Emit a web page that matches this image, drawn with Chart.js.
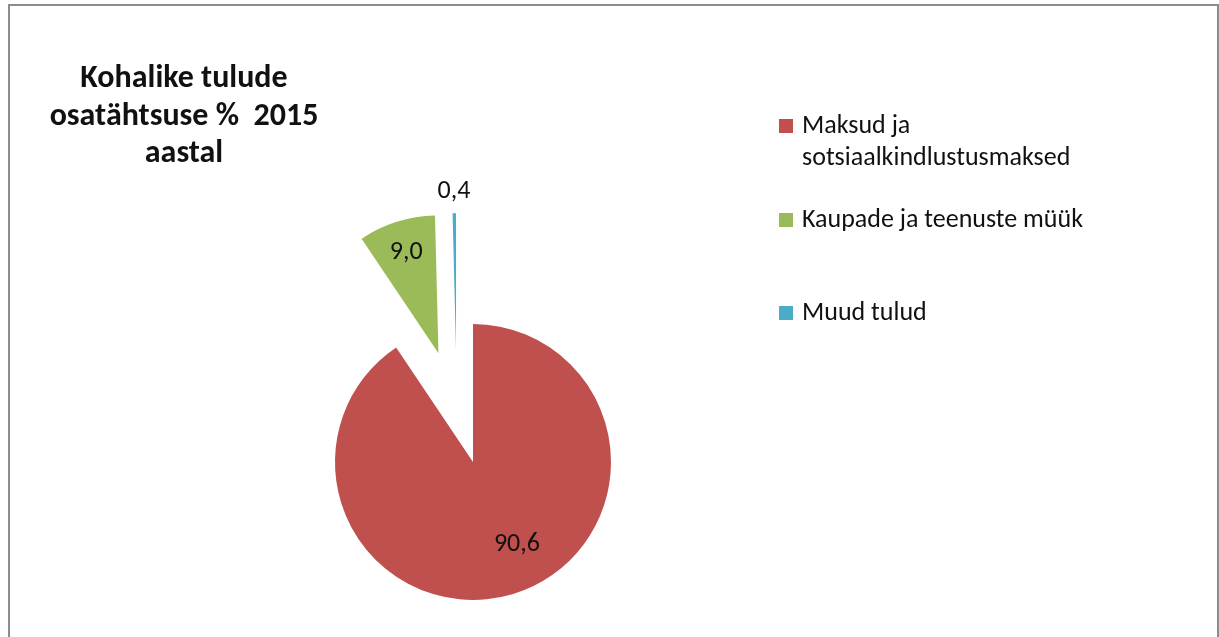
<!DOCTYPE html>
<html>
<head>
<meta charset="utf-8">
<script src="https://cdn.jsdelivr.net/npm/chart.js@4"></script>
<style>
  body { margin: 0; background: #fff; }
  #frame { position: absolute; left: 8px; top: 4px; width: 1207px; height: 660px; border: 2px solid #8c8c8c; }
  #wrap { position: absolute; left: 0; top: 0; width: 1219px; height: 637px; }
  .txt { position: absolute; font-family: Carlito, Calibri, Lato, "Liberation Sans", sans-serif; color: #111; white-space: nowrap; }
  #title { left: 34px; top: 58px; width: 300px; text-align: center; font-weight: bold; font-size: 32px; line-height: 37.5px; }
  .leg { left: 779px; font-size: 26px; line-height: 32px; }
  .leg span.sw { position: absolute; left: 0; top: 11px; width: 14px; height: 14px; }
  .leg div { padding-left: 23px; }
</style>
</head>
<body>
<div id="frame"></div>
<div id="wrap"><canvas id="myChart" width="1219" height="637"></canvas></div>
<div id="title" class="txt">Kohalike tulude<br>osatähtsuse %&nbsp; 2015<br>aastal</div>
<div id="legend"></div>
<script>
/* Andmed */
let kategooriad = ['Maksud ja sotsiaalkindlustusmaksed', 'Kaupade ja teenuste müük', 'Muud tulud'];
let legendiRead = [['Maksud ja', 'sotsiaalkindlustusmaksed'], ['Kaupade ja teenuste müük'], ['Muud tulud']];
let osakaal = [90.6, 9.0, 0.4];
let sildid = ['90,6', '9,0', '0,4'];
let varvid = ['#C0504D', '#9BBB59', '#4BACC6'];

/* Legend HTML-ina */
let legendTop = [108, 202, 295];
let legend = document.getElementById('legend');
for (let i = 0; i < kategooriad.length; i++) {
	let el = document.createElement('div');
	el.className = 'txt leg';
	el.style.top = legendTop[i] + 'px';
	el.innerHTML = '<span class="sw" style="background:' + varvid[i] + '"></span><div>' + legendiRead[i].join('<br>') + '</div>';
	legend.appendChild(el);
}

/* Väljatõmmatud viilud (Excel-i "explosion"), px ja suuna nihe kraadides */
let valja = [0, 114, 112];
let valjaSuund = [0, 0, -8];
const valjaPlugin = {
	id: 'valja',
	afterDatasetUpdate(chart, args) {
		const a = chart.chartArea;
		const cx = (a.left + a.right) / 2;
		const cy = (a.top + a.bottom) / 2;
		args.meta.data.forEach(function (arc, i) {
			const mid = (arc.startAngle + arc.endAngle) / 2 + valjaSuund[i] * Math.PI / 180;
			arc.x = cx + Math.cos(mid) * valja[i];
			arc.y = cy + Math.sin(mid) * valja[i];
		});
	}
};

/* Sildid viilude juures */
let siltNihe = [-11, 0, 0];     // kraadides
let siltKaugus = [0.68, 0.77, 1.16];
const sildiPlugin = {
	id: 'sildid',
	afterDatasetsDraw(chart) {
		const ctx = chart.ctx;
		const meta = chart.getDatasetMeta(0);
		ctx.save();
		ctx.font = '26px Carlito, Calibri, Lato, "Liberation Sans", sans-serif';
		ctx.fillStyle = '#111';
		ctx.textAlign = 'center';
		ctx.textBaseline = 'middle';
		meta.data.forEach(function (arc, i) {
			const mid = (arc.startAngle + arc.endAngle) / 2;
			const a = mid + siltNihe[i] * Math.PI / 180;
			const r = arc.outerRadius * siltKaugus[i];
			ctx.fillText(sildid[i], arc.x + Math.cos(a) * r, arc.y + Math.sin(a) * r);
		});
		ctx.restore();
	}
};

var ctx = document.getElementById('myChart');
var myChart = new Chart(ctx, {
	type: 'pie',
	data: {
		labels: kategooriad,
		datasets: [{
			data: osakaal,
			backgroundColor: varvid,
			borderWidth: 0
		}]
	},
	options: {
		responsive: false,
		animation: false,
		radius: 138,
		cutout: '0%',
		layout: { padding: { left: 335, right: 608, top: 324, bottom: 37 } },
		plugins: {
			legend: { display: false },
			tooltip: { enabled: false }
		}
	},
	plugins: [valjaPlugin, sildiPlugin]
});
</script>
</body>
</html>
